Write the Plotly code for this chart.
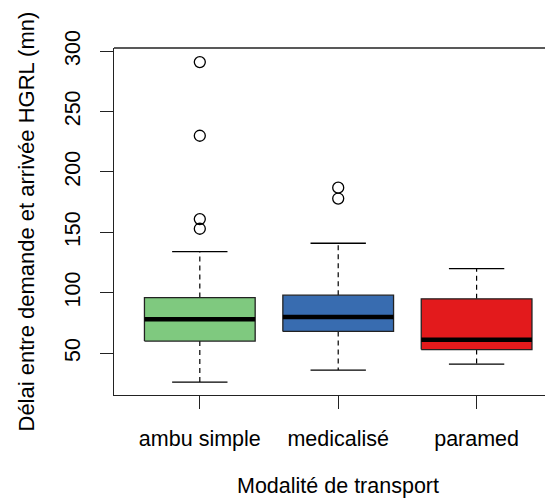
import plotly.graph_objects as go

categories = ["ambu simple", "medicalisé", "paramed"]
positions = [1, 2, 3]
lower_whisker = [26, 36, 41]
q1 = [60, 68, 53]
median = [78, 80, 61]
q3 = [96, 98, 95]
upper_whisker = [134, 141, 120]
outliers = [[291, 230, 161, 153], [187, 178], []]
colors = ["#7FC97F", "#386CB0", "#E31A1C"]
y_ticks = [50, 100, 150, 200, 250, 300]

FONT = "Liberation Sans, Arial, sans-serif"
FS = 21.5
BOX_HALF = 0.4
CAP_HALF = 0.2

fig = go.Figure()

for i, x in enumerate(positions):
    # whiskers (dashed)
    fig.add_trace(go.Scatter(
        x=[x, x, None, x, x], y=[q3[i], upper_whisker[i], None, q1[i], lower_whisker[i]],
        mode="lines", line=dict(color="black", width=1.2, dash="5px,4px"),
        showlegend=False, hoverinfo="skip"))
    # caps
    fig.add_trace(go.Scatter(
        x=[x - CAP_HALF, x + CAP_HALF, None, x - CAP_HALF, x + CAP_HALF],
        y=[upper_whisker[i], upper_whisker[i], None, lower_whisker[i], lower_whisker[i]],
        mode="lines", line=dict(color="black", width=1.3),
        showlegend=False, hoverinfo="skip"))
    # box
    fig.add_trace(go.Scatter(
        x=[x - BOX_HALF, x + BOX_HALF, x + BOX_HALF, x - BOX_HALF, x - BOX_HALF],
        y=[q1[i], q1[i], q3[i], q3[i], q1[i]],
        mode="lines", fill="toself", fillcolor=colors[i],
        line=dict(color="#222222", width=1.3),
        showlegend=False, hoverinfo="skip"))
    # median
    fig.add_trace(go.Scatter(
        x=[x - BOX_HALF, x + BOX_HALF], y=[median[i], median[i]],
        mode="lines", line=dict(color="black", width=4.5),
        showlegend=False, hoverinfo="skip"))
    # outliers
    if outliers[i]:
        fig.add_trace(go.Scatter(
            x=[x] * len(outliers[i]), y=outliers[i], mode="markers",
            marker=dict(symbol="circle-open", size=11, color="black",
                        line=dict(width=1.3, color="black")),
            showlegend=False, hoverinfo="skip"))

# the page places the figure 8px from the top-left corner
fig.update_layout(
    width=545, height=493,
    margin=dict(l=106, r=0, t=39.5, b=106),
    paper_bgcolor="white", plot_bgcolor="white",
    font=dict(family=FONT, size=FS, color="black"),
    xaxis=dict(range=[0.38, 3.552], tickvals=positions, ticktext=categories,
               showgrid=False, zeroline=False, showline=True, linecolor="#222222",
               linewidth=1.3, ticks="outside", ticklen=13, tickwidth=1.3,
               tickcolor="#222222", ticklabelstandoff=11,
               tickfont=dict(family=FONT, size=FS, color="black")),
    yaxis=dict(range=[15.36, 302.64], tickvals=y_ticks, showgrid=False, zeroline=False,
               showline=True, linecolor="#222222", linewidth=1.3, ticks="outside",
               ticklen=13, tickwidth=1.3, tickcolor="#222222", tickangle=-90,
               ticklabelstandoff=11,
               tickfont=dict(family=FONT, size=FS, color="black")),
    shapes=[dict(type="line", xref="paper", yref="paper", x0=0, x1=1, y0=1, y1=1,
                 line=dict(color="#222222", width=1.3))],
    annotations=[
        dict(text="Modalité de transport", xref="x", yref="paper", x=2, y=0,
             yshift=-91, showarrow=False, xanchor="center", yanchor="middle",
             font=dict(family=FONT, size=FS, color="black")),
        dict(text="Délai entre demande et arrivée HGRL (mn)", xref="paper", yref="paper",
             x=0, xshift=-88, y=0.5, textangle=-90, showarrow=False,
             xanchor="center", yanchor="middle",
             font=dict(family=FONT, size=22, color="black")),
    ],
)

fig.write_html("out.html")
